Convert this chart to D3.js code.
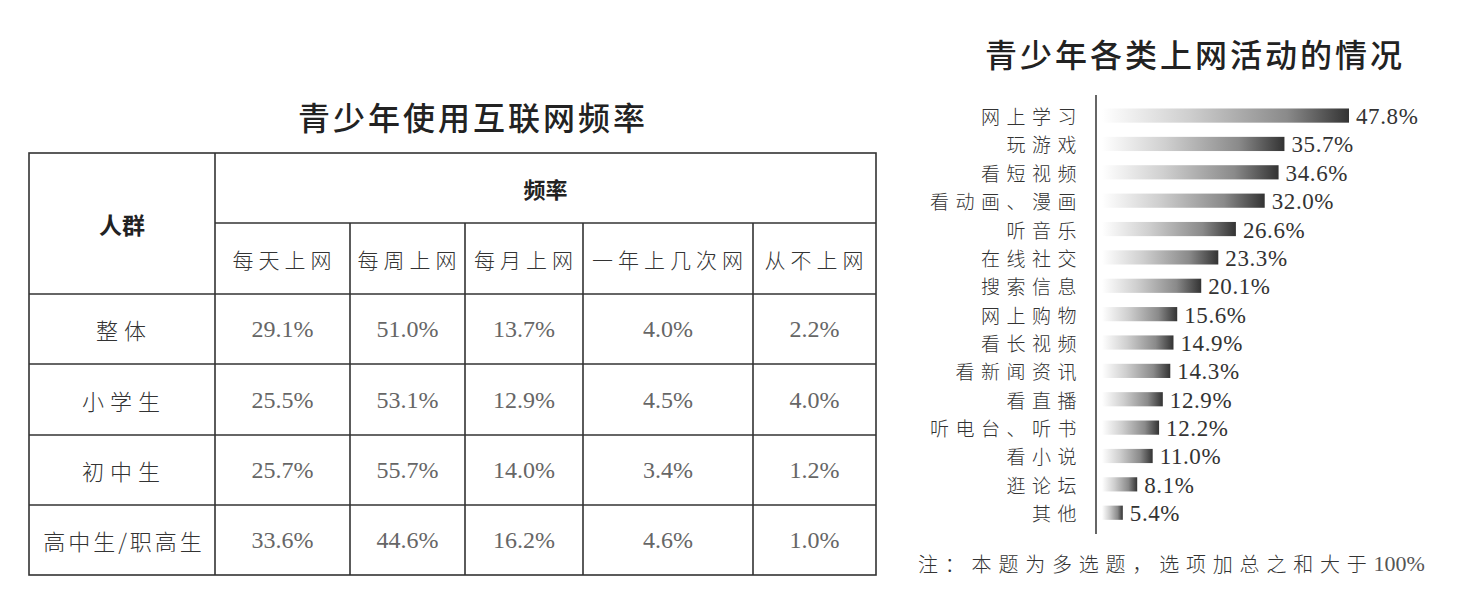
<!DOCTYPE html>
<html><head><meta charset="utf-8">
<script src="https://cdn.jsdelivr.net/npm/d3@7"></script>
<style>
html,body{margin:0;padding:0;background:#fff;}
svg{display:block;}
</style></head>
<body>
<svg id="c" width="1473" height="613"></svg>
<script>
// ---------- data ----------
const tableTitle = "青少年使用互联网频率";
const groupHeader = "人群";
const freqHeader = "频率";
const freqCols = ["每天上网", "每周上网", "每月上网", "一年上几次网", "从不上网"];
const groups = ["整体", "小学生", "初中生", "高中生/职高生"];
const freqValues = [
  [29.1, 51.0, 13.7, 4.0, 2.2],
  [25.5, 53.1, 12.9, 4.5, 4.0],
  [25.7, 55.7, 14.0, 3.4, 1.2],
  [33.6, 44.6, 16.2, 4.6, 1.0]
];
const barTitle = "青少年各类上网活动的情况";
const activities = ["网上学习", "玩游戏", "看短视频", "看动画、漫画", "听音乐", "在线社交", "搜索信息", "网上购物",
  "看长视频", "看新闻资讯", "看直播", "听电台、听书", "看小说", "逛论坛", "其他"];
const activityValues = [47.8, 35.7, 34.6, 32.0, 26.6, 23.3, 20.1, 15.6, 14.9, 14.3, 12.9, 12.2, 11.0, 8.1, 5.4];
const noteText = "注：本题为多选题，选项加总之和大于";
const noteNumber = "100%";

// ---------- setup ----------
const svg = d3.select("#c");
const CJK = "'Noto Sans CJK SC', sans-serif";
const SERIF = "'Liberation Serif', 'DejaVu Serif', serif";
const fmt = d3.format(".1f");

// ---------- table ----------
const colEdges = [29, 215, 350, 465, 583, 753, 876];
const rowEdges = [153, 223, 294, 364, 435, 505, 575];

svg.append("text").attr("x", 473).attr("y", 130)
  .attr("text-anchor", "middle").attr("font-family", CJK).attr("font-weight", 500)
  .attr("font-size", 32).attr("letter-spacing", 3).attr("fill", "#222").text(tableTitle);

const tg = svg.append("g").attr("stroke", "#333").attr("stroke-width", 1.6).attr("fill", "none");
tg.append("rect").attr("x", colEdges[0]).attr("y", rowEdges[0])
  .attr("width", colEdges[6] - colEdges[0]).attr("height", rowEdges[6] - rowEdges[0]);
colEdges.slice(1, 6).forEach((x, i) => {
  tg.append("line").attr("x1", x).attr("x2", x)
    .attr("y1", i === 0 ? rowEdges[0] : rowEdges[1]).attr("y2", rowEdges[6]);
});
rowEdges.slice(1, 6).forEach((y, i) => {
  tg.append("line").attr("x1", i === 0 ? colEdges[1] : colEdges[0]).attr("x2", colEdges[6])
    .attr("y1", y).attr("y2", y);
});

const cellText = (x, y, t, opts = {}) => svg.append("text")
  .attr("x", x).attr("y", y).attr("text-anchor", "middle").attr("dominant-baseline", "central")
  .attr("font-family", opts.family || CJK).attr("font-size", opts.size || 21)
  .attr("font-weight", opts.weight || 400).attr("letter-spacing", opts.ls || 0)
  .attr("fill", opts.fill || "#333").text(t);

cellText((colEdges[0] + colEdges[1]) / 2, (rowEdges[0] + rowEdges[2]) / 2, groupHeader, { weight: 700, size: 23, fill: "#222" });
cellText((colEdges[1] + colEdges[6]) / 2, (rowEdges[0] + rowEdges[1]) / 2, freqHeader, { weight: 700, size: 22, fill: "#222" });
freqCols.forEach((c, i) => {
  cellText((colEdges[i + 1] + colEdges[i + 2]) / 2 + 2, (rowEdges[1] + rowEdges[2]) / 2, c, { size: 21, ls: 5, fill: "#333", weight: 300 });
});
groups.forEach((g, r) => {
  const cy = (rowEdges[r + 2] + rowEdges[r + 3]) / 2;
  cellText((colEdges[0] + colEdges[1]) / 2 + 2, cy, g, { size: 22, ls: g.length > 3 ? 3 : 6, fill: "#333", weight: 300 });
  freqValues[r].forEach((v, i) => {
    cellText((colEdges[i + 1] + colEdges[i + 2]) / 2, cy, fmt(v) + "%", { family: SERIF, size: 24, fill: "#666" });
  });
});

// ---------- bar chart ----------
svg.append("text").attr("x", 1195).attr("y", 67)
  .attr("text-anchor", "middle").attr("font-family", CJK).attr("font-weight", 500)
  .attr("font-size", 32).attr("letter-spacing", 3).attr("fill", "#222").text(barTitle);

const defs = svg.append("defs");
const grad = defs.append("linearGradient").attr("id", "barGrad").attr("x1", "0%").attr("x2", "100%");
grad.append("stop").attr("offset", "0%").attr("stop-color", "#ffffff");
grad.append("stop").attr("offset", "35%").attr("stop-color", "#cfcfcf");
grad.append("stop").attr("offset", "75%").attr("stop-color", "#8a8a8a");
grad.append("stop").attr("offset", "100%").attr("stop-color", "#333333");

const axisX = 1096;
const x = d3.scaleLinear().domain([0, 47.8]).range([1094, 1349]);
const y = d3.scaleBand().domain(activities).range([94.3, 534]).padding(0.5);
const barStart = axisX + 6;

svg.append("line").attr("x1", axisX).attr("x2", axisX).attr("y1", 95).attr("y2", 534)
  .attr("stroke", "#333").attr("stroke-width", 1.5);

const rows = svg.append("g").selectAll("g").data(activities).join("g");
rows.append("rect")
  .attr("x", barStart)
  .attr("y", d => y(d))
  .attr("width", (d, i) => x(activityValues[i]) - barStart)
  .attr("height", y.bandwidth())
  .attr("fill", "url(#barGrad)");
rows.append("text")
  .attr("x", 1083).attr("y", d => y(d) + y.bandwidth() / 2)
  .attr("text-anchor", "end").attr("dominant-baseline", "central")
  .attr("font-family", CJK).attr("font-weight", 300).attr("font-size", 19).attr("letter-spacing", 6.5)
  .attr("fill", "#333").text(d => d);
rows.append("text")
  .attr("x", (d, i) => x(activityValues[i]) + 7).attr("y", d => y(d) + y.bandwidth() / 2 + 1)
  .attr("dominant-baseline", "central")
  .attr("font-family", SERIF).attr("font-size", 23).attr("letter-spacing", 0.6)
  .attr("fill", "#333").text((d, i) => fmt(activityValues[i]) + "%");

const nt = svg.append("text").attr("x", 918).attr("y", 563).attr("dominant-baseline", "central")
  .attr("fill", "#333");
nt.append("tspan").attr("font-family", CJK).attr("font-weight", 300).attr("font-size", 20)
  .attr("letter-spacing", 6.8).text(noteText);
nt.append("tspan").attr("font-family", SERIF).attr("font-size", 22).attr("fill", "#555").text(noteNumber);
</script>
</body></html>
